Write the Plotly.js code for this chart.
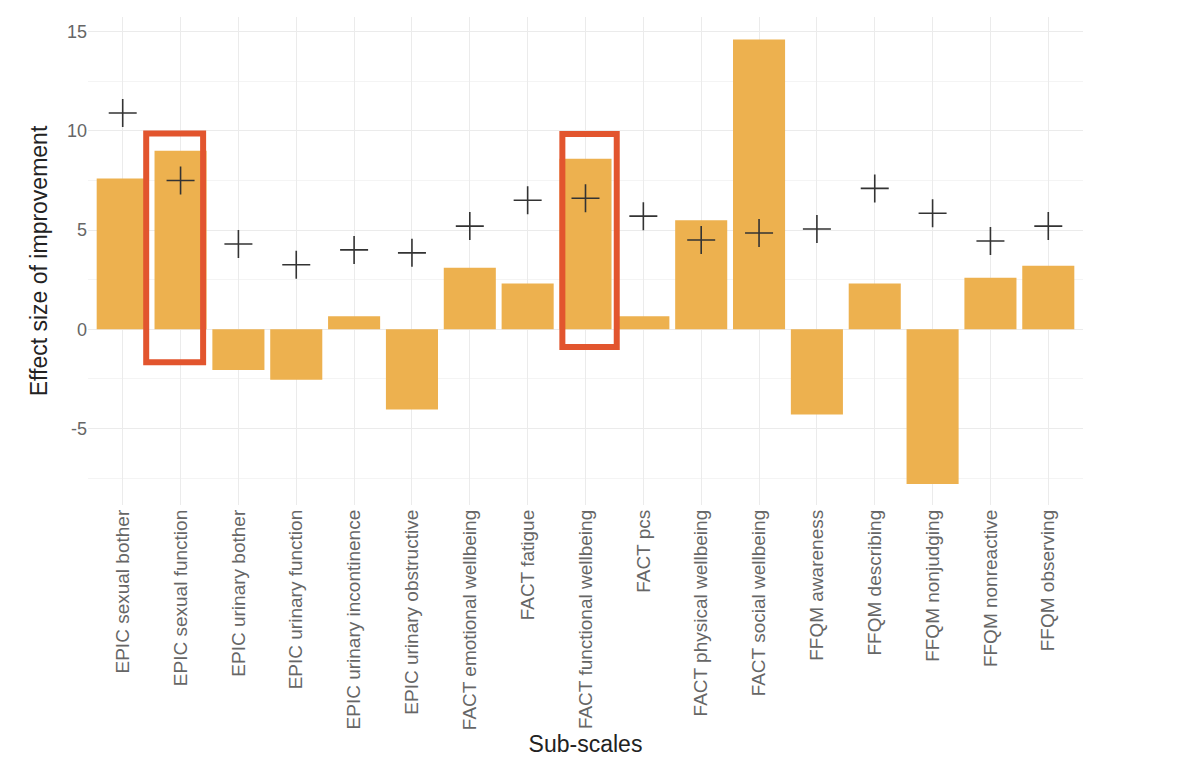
<!DOCTYPE html>
<html>
<head>
<meta charset="utf-8">
<script src="https://cdn.plot.ly/plotly-3.0.1.min.js"></script>
<style>html,body{margin:0;padding:0;background:#fff;}#chart{width:1200px;height:781px;}</style>
</head>
<body>
<div id="chart"></div>
<script>
const categories = [
  "EPIC sexual bother", "EPIC sexual function", "EPIC urinary bother", "EPIC urinary function",
  "EPIC urinary incontinence", "EPIC urinary obstructive", "FACT emotional wellbeing", "FACT fatigue",
  "FACT functional wellbeing", "FACT pcs", "FACT physical wellbeing", "FACT social wellbeing",
  "FFQM awareness", "FFQM describing", "FFQM nonjudging", "FFQM nonreactive", "FFQM observing"
];
const barValues = [7.6, 9.0, -2.05, -2.55, 0.65, -4.05, 3.1, 2.3, 8.6, 0.65, 5.5, 14.6, -4.3, 2.3, -7.8, 2.6, 3.2];
const crossValues = [10.9, 7.5, 4.3, 3.25, 4.0, 3.85, 5.2, 6.5, 6.6, 5.7, 4.5, 4.85, 5.05, 7.1, 5.85, 4.45, 5.2];
const yTicks = [-5, 0, 5, 10, 15];
// highlighted categories and box extents
const highlightIndex = [1, 8];
const highlightTop = [9.87, 9.84];
const highlightBottom = [-1.67, -0.89];
const highlightHalfLeft = [0.594, 0.40];
const highlightHalfRight = [0.39, 0.54];

const bars = {
  type: 'bar', x: categories, y: barValues, width: 0.9,
  marker: {color: '#EDB14F'}, hoverinfo: 'x+y', showlegend: false
};
const crosses = {
  type: 'scatter', mode: 'markers', x: categories, y: crossValues,
  marker: {symbol: 'cross-thin-open', size: 20, line: {color: '#333333', width: 1.6}, color: '#333333'},
  showlegend: false
};

const shapes = highlightIndex.map((ci, i) => ({
  type: 'rect', xref: 'x', yref: 'y',
  x0: ci - highlightHalfLeft[i], x1: ci + highlightHalfRight[i],
  y0: highlightBottom[i], y1: highlightTop[i],
  line: {color: '#E2552E', width: 6}, fillcolor: 'rgba(0,0,0,0)', layer: 'above'
}));

const layout = {
  width: 1200, height: 781,
  margin: {l: 88, r: 117, t: 17, b: 276},
  paper_bgcolor: '#ffffff', plot_bgcolor: '#ffffff',
  font: {family: 'Liberation Sans, Arial, sans-serif', color: '#666666'},
  xaxis: {
    type: 'category', range: [-0.6, 16.6],
    tickangle: -90, tickfont: {size: 19, color: '#666666'},
    showgrid: true, gridcolor: '#ebebeb', gridwidth: 1,
    ticks: '', ticklen: 0, zeroline: false, showline: false,
    title: {text: 'Sub-scales', font: {size: 23, color: '#222222'}, standoff: 6},
    automargin: false
  },
  yaxis: {
    range: [-8.86, 15.74], tickvals: yTicks, ticktext: yTicks.map(String),
    tickfont: {size: 18, color: '#666666'},
    showgrid: true, gridcolor: '#ebebeb', gridwidth: 1,
    minor: {tickvals: [-7.5, -2.5, 2.5, 7.5, 12.5], showgrid: true, gridcolor: '#f4f4f4', gridwidth: 1, ticks: ''},
    zeroline: false, showline: false, ticks: '', ticklen: 0,
    title: {text: 'Effect size of improvement', font: {size: 23, color: '#222222'}, standoff: 12},
    automargin: false
  },
  shapes: shapes,
  bargap: 0.1
};

Plotly.newPlot('chart', [bars, crosses], layout, {displayModeBar: false, staticPlot: true});
</script>
</body>
</html>
